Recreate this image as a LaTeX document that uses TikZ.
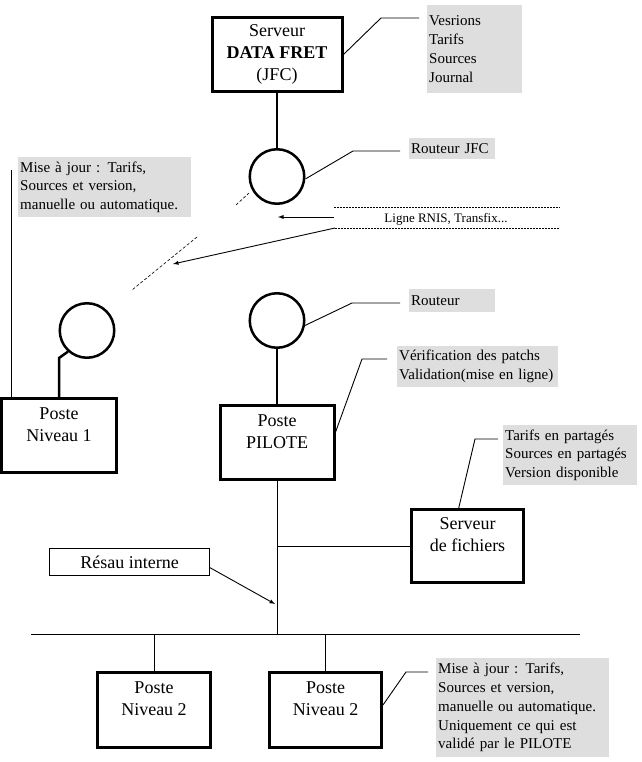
\documentclass[tikz,border=0pt]{standalone}
\usepackage{fontspec}
\setmainfont{Liberation Serif}
\usetikzlibrary{positioning}
\newcommand{\boxfont}{\fontsize{18}{22}\selectfont}
\newcommand{\bullefont}{\fontsize{15}{18.8}\selectfont}
\tikzset{
	postebox/.style={
		draw,
		line width=3pt,
		align=center,
		font=\boxfont,
		inner sep=0pt,
	},
	routeur/.style={
		draw,
		circle,
		line width=2.5pt,
		minimum size=54.5pt,
		inner sep=0pt,
	},
	bulle/.style={
		fill=black!13,
		anchor=north west,
		align=left,
		font=\bullefont,
		inner xsep=2pt,
		inner ysep=0pt,
	},
	fil/.style={line width=0.9pt},
	liaison/.style={line width=2.5pt},
}

\begin{document}
\begin{tikzpicture}[
	x=1pt, y=-1pt,
	pointille/.style = {line width=0.7pt, dash pattern=on 1.5pt off 1.5pt},
	tirets/.style = {line width=0.6pt, dash pattern=on 3pt off 2pt}
	]
	\useasboundingbox (0,0) rectangle (641,762);
	% Postes et serveurs
	\node[postebox, minimum width=130pt, minimum height=74pt] (srv) at (277,54.5) {Serveur\\\textbf{DATA FRET}\\(JFC)};
	\node[postebox, minimum width=115pt, minimum height=74pt] (n1) at (59,435.5) {Poste\\Niveau 1\\\mbox{}};
	\node[postebox, minimum width=114pt, minimum height=74pt] (pilote) at (277,442.5) {Poste\\PILOTE\\\mbox{}};
	\node[postebox, minimum width=112pt, minimum height=73pt] (fich) at (467.5,546) {Serveur\\de fichiers\\\mbox{}};
	\node[postebox, minimum width=113pt, minimum height=75pt] (n2a) at (154,710) {Poste\\Niveau 2\\\mbox{}};
	\node[postebox, minimum width=112pt, minimum height=75pt] (n2b) at (325.5,710) {Poste\\Niveau 2\\\mbox{}};
	
	% Routeurs
	\node[routeur] (rjfc) at (277,176.5) {};
	\node[routeur] (rtr) at (277,320.5) {};
	\node[routeur] (rn1) at (87,330.5) {};
	
	% Bulles
	\node[bulle, minimum width=95pt, minimum height=88pt, text width=91pt] (vers) at (427,5) {Vesrions\\Tarifs\\Sources\\Journal};
	\node[bulle, minimum width=86pt, minimum height=21pt, text width=82pt] (rjfcTxt) at (409,138) {Routeur JFC};
	\node[bulle, minimum width=86pt, minimum height=23pt, text width=82pt] (rtrTxt) at (409,289) {Routeur};
	\node[bulle, minimum width=173pt, minimum height=60pt, text width=169pt] (majN1) at (18,157) {Mise à jour : Tarifs,\\Sources et version,\\manuelle ou automatique.};
	\node[bulle, minimum width=161pt, minimum height=41pt, text width=157pt] (verif) at (397,346) {Vérification des patchs\\Validation(mise en ligne)};
	\node[bulle, minimum width=134pt, minimum height=60pt, text width=130pt] (partage) at (503,425) {Tarifs en partagés\\Sources en partagés\\Version disponible};
	\node[bulle, minimum width=173pt, minimum height=99pt, text width=169pt] (majN2) at (436,658) {Mise à jour : Tarifs,\\Sources et version,\\manuelle ou automatique.\\Uniquement ce qui est\\validé par le PILOTE};
	
	\node[draw, line width=0.8pt, minimum width=160pt, minimum height=27pt, inner sep=0pt, font=\boxfont] (resau) at (129.5,562) {Résau interne};
	\node[font=\fontsize{13}{15}\selectfont, inner sep=0pt] (rnis) at (446,219) {Ligne RNIS, Transfix...};
	
	% Liaisons
	\draw[liaison] (srv.south) to (rjfc.north);
	\draw[liaison] (rtr.south) to (pilote.north);
	\coordinate (n1coude) at (59,358);
	\draw[liaison] (rn1.228) -- (n1coude) -- (n1.north);
	
	% Reseau interne
	\coordinate (busG) at (31,634);
	\coordinate (busD) at (580,634);
	\draw[fil] (busG) -- (busD);
	\draw[fil] (pilote.south) -- (pilote.south |- busG);
	\draw[fil] (pilote.south |- fich.west) -- (fich.west);
	\draw[fil] (n2a.north) -- (n2a.north |- busG);
	\draw[fil] (n2b.north) -- (n2b.north |- busG);
	\coordinate (resauFin) at (275,604);
	\draw[fil, ->, >=latex] (resau.-4) -- (resauFin);
	
	% Ligne RNIS
	\coordinate (rnisA) at (334,207);
	\coordinate (rnisB) at (560,207);
	\coordinate (rnisC) at (335,228);
	\coordinate (rnisD) at (560,228);
	\coordinate (rnisM) at (334,217);
	\draw[pointille] (rnisA) -- (rnisB);
	\draw[pointille] (rnisC) -- (rnisD);
	\coordinate (jfcFin) at (278,217);
	\coordinate (n1Fin) at (173,264);
	\draw[fil, ->, >=latex] (rnisM) -- (jfcFin);
	\draw[fil, ->, >=latex] (rnisC) -- (n1Fin);
	\draw[tirets] (236,205) -- (249,193);
	\draw[tirets] (197,237) -- (132,290);
	
	% Renvois vers les bulles
	\coordinate (versA) at (381,18);
	\coordinate (versB) at (419,18);
	\draw[fil] (srv.east) -- (versA) -- (versB);
	\coordinate (rjfcA) at (353,151);
	\coordinate (rjfcB) at (400,151);
	\draw[fil] (rjfc.-5) -- (rjfcA) -- (rjfcB);
	\coordinate (rtrA) at (352,303);
	\coordinate (rtrB) at (400,303);
	\draw[fil] (rtr.-10) -- (rtrA) -- (rtrB);
	\coordinate (piloteA) at (362,359);
	\coordinate (piloteB) at (387,359);
	\draw[fil] (pilote.10) -- (piloteA) -- (piloteB);
	\coordinate (fichA) at (475,439);
	\coordinate (fichB) at (498,439);
	\draw[fil] (fich.103) -- (fichA) -- (fichB);
	\coordinate (n2bA) at (406,672);
	\coordinate (n2bB) at (428,672);
	\draw[fil] (n2b.5) -- (n2bA) -- (n2bB);
	\coordinate (majA) at (11,170);
	\draw[fil] (majA) -- (majA |- n1.north);
	
\end{tikzpicture}
\end{document}
